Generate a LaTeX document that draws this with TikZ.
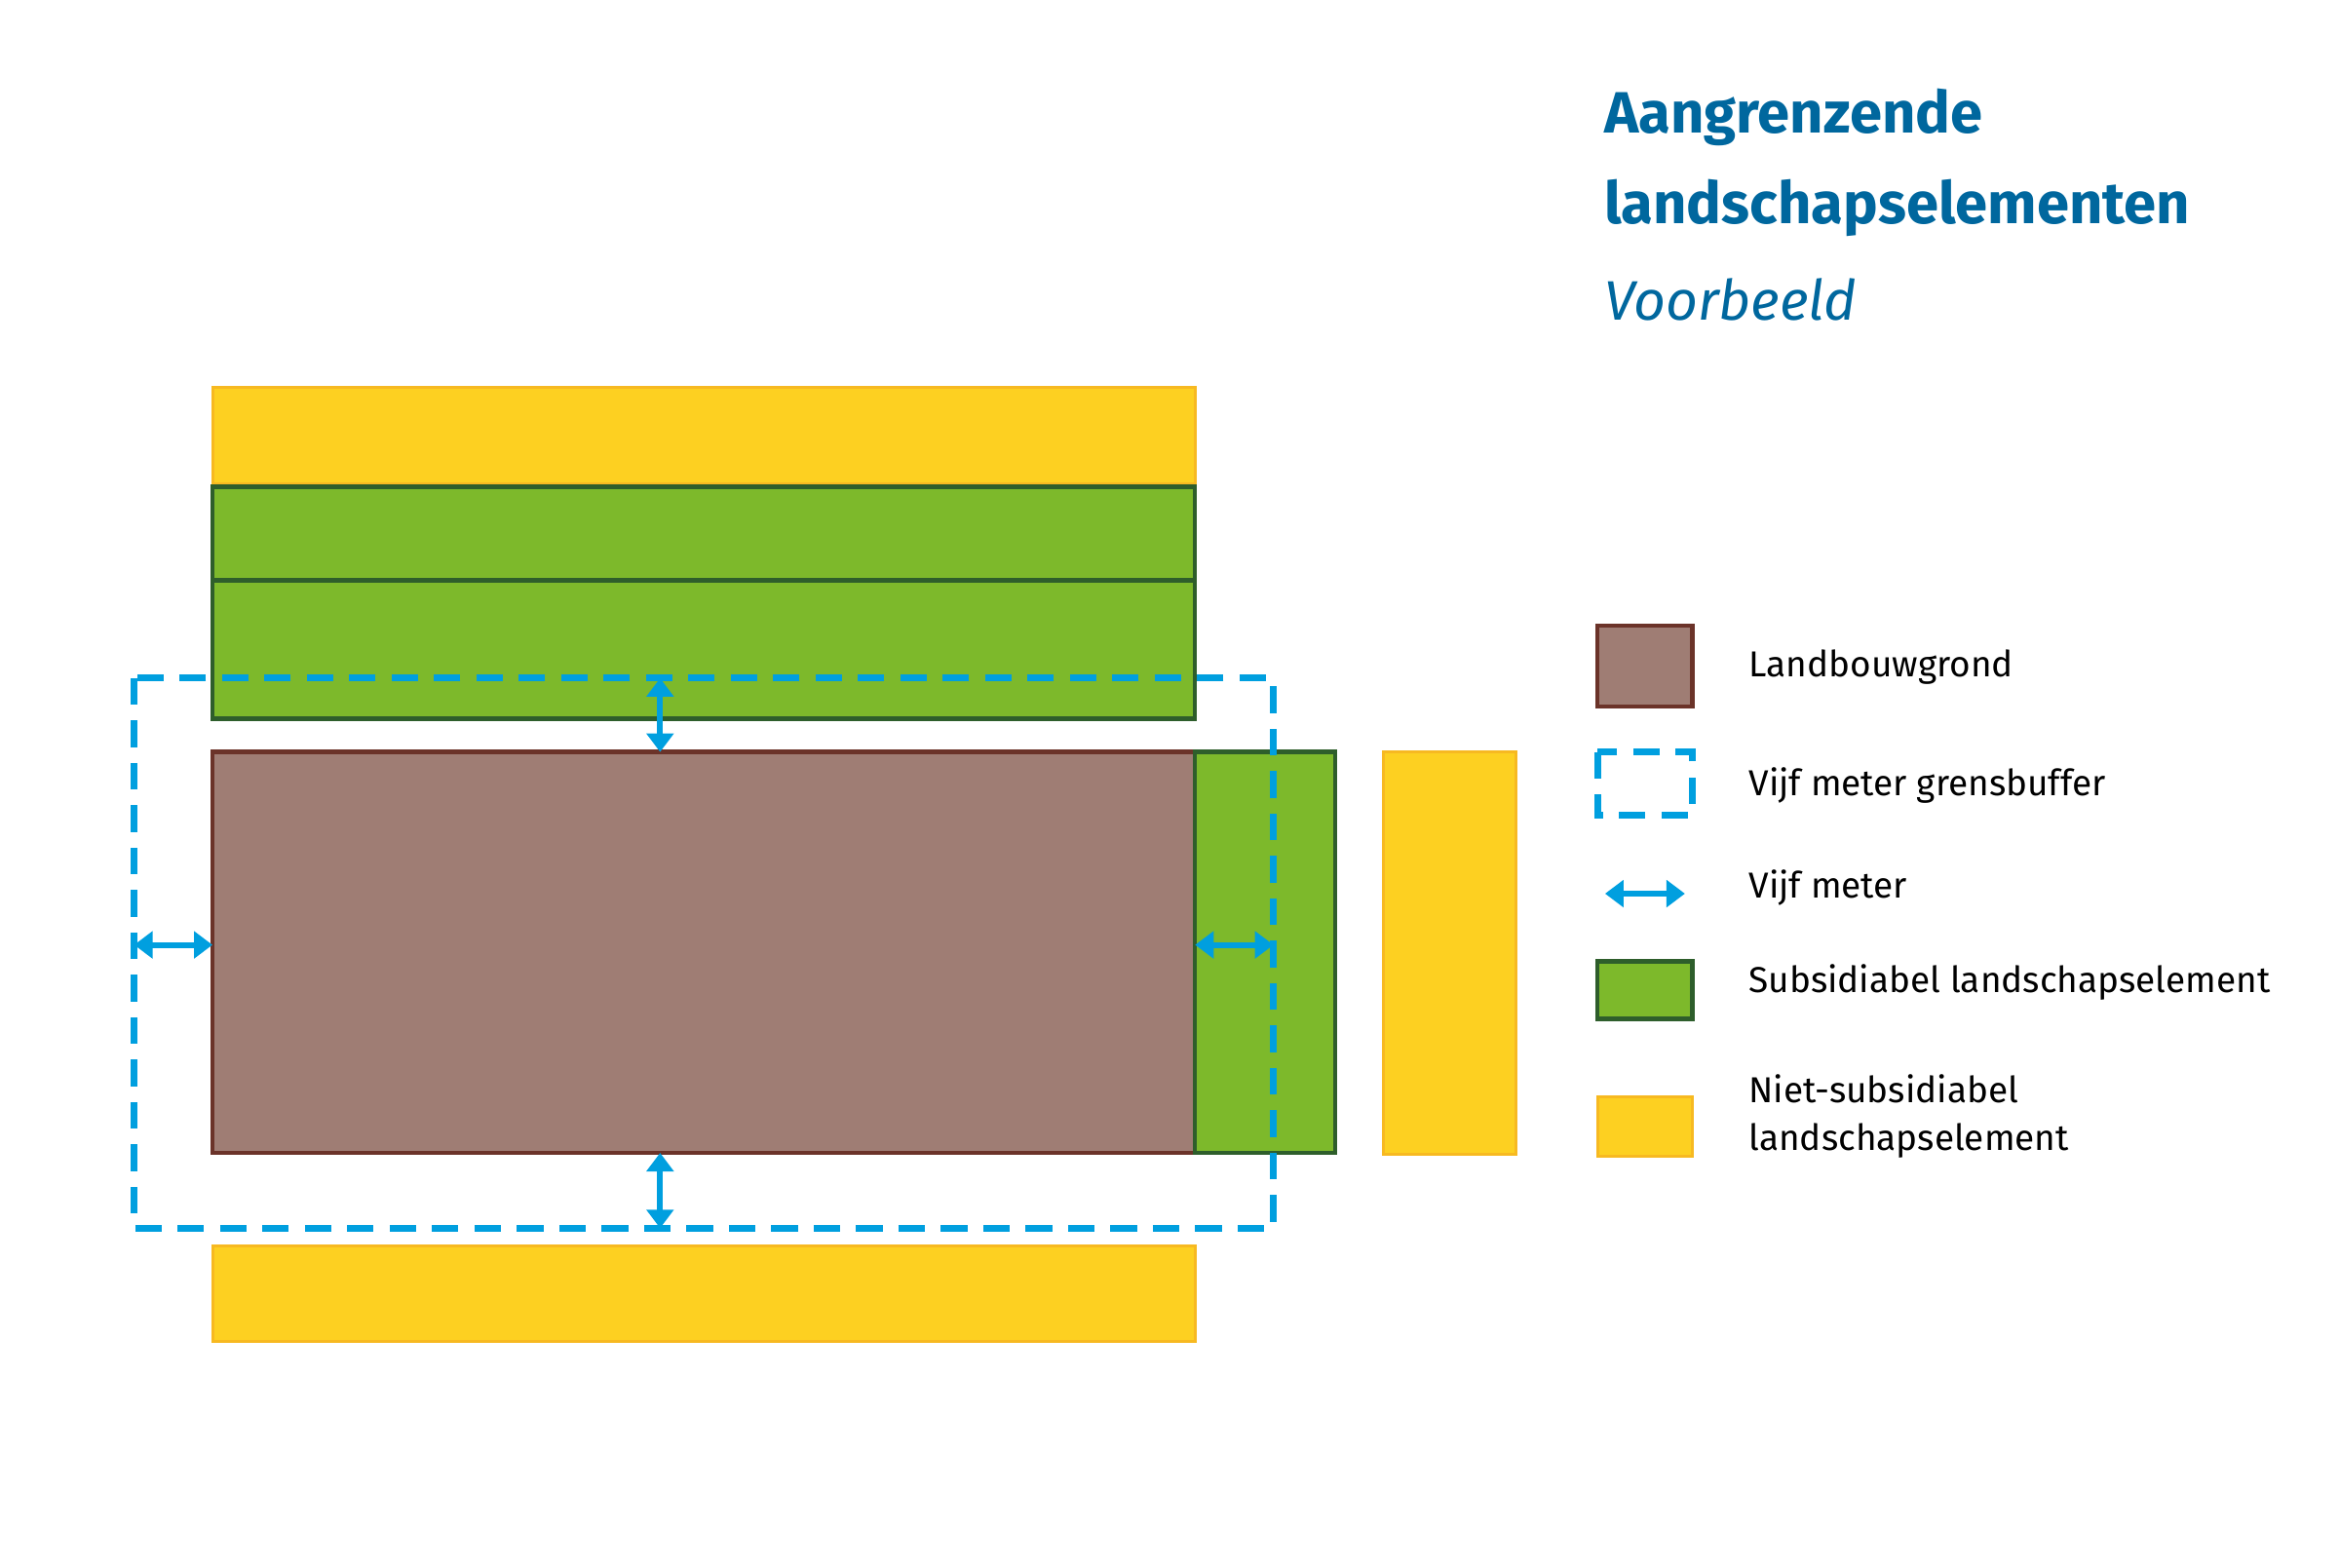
\documentclass[tikz,border=0pt]{standalone}
\usepackage{fontspec}
\setmainfont{Fira Sans}
\usetikzlibrary{arrows.meta}
\definecolor{yel}{HTML}{FDD021}\definecolor{yelb}{HTML}{F7B921}
\definecolor{grn}{HTML}{7DB92B}\definecolor{grnb}{HTML}{2E5E2B}
\definecolor{brn}{HTML}{9F7D74}\definecolor{brnb}{HTML}{6B3329}
\definecolor{blu}{HTML}{009FDF}\definecolor{ttl}{HTML}{00679E}
\tikzset{
 yelbox/.style={fill=yel,draw=yelb,line width=0.55pt},
 grnbox/.style={fill=grn,draw=grnb,line width=0.8pt},
 brnbox/.style={fill=brn,draw=brnb,line width=0.8pt},
 buf/.style={draw=blu,line width=1.3pt,dash pattern=on 5pt off 3pt},
 dbl/.style={blu,line width=1.1pt,{Triangle[length=3.5pt,width=5pt]}-{Triangle[length=3.5pt,width=5pt]}},
 lab/.style={anchor=west,font=\fontsize{6.8}{9}\selectfont,align=left}
}
\begin{document}
\begin{tikzpicture}[x=0.01cm,y=-0.01cm]
\useasboundingbox (0,0) rectangle (1552,1040);
\draw[yelbox] (141,257) rectangle (793,321);
\draw[grnbox] (141,323) rectangle (793,385);
\draw[grnbox] (141,385) rectangle (793,477);
\draw[brnbox] (141,499) rectangle (793,765);
\draw[grnbox] (793,499) rectangle (886,765);
\draw[yelbox] (918,499) rectangle (1006,766);
\draw[yelbox] (141,827) rectangle (793,890);
\draw[buf] (89,450) rectangle (845,815);
\coordinate (a1) at (438,450); \coordinate (a2) at (438,499);
\coordinate (b1) at (438,765); \coordinate (b2) at (438,815);
\coordinate (c1) at (89,627); \coordinate (c2) at (141,627);
\coordinate (d1) at (793,627); \coordinate (d2) at (845,627);
\draw[dbl] (a1)--(a2); \draw[dbl] (b1)--(b2);
\draw[dbl] (c1)--(c2); \draw[dbl] (d1)--(d2);
\node[anchor=west,text=ttl,font=\fontsize{11}{17}\selectfont\bfseries,align=left] (t) at (1052,108) {Aangrenzende\\landschapselementen};
\node[anchor=west,text=ttl,font=\fontsize{10.5}{12}\selectfont\itshape] (v) at (1052,199) {Voorbeeld};
\draw[brnbox] (1060,415) rectangle (1123,469);
\node[lab] (l1) at (1148,443) {Landbouwgrond};
\draw[buf] (1060,499) rectangle (1123,541);
\node[lab] (l2) at (1148,521) {Vijf meter grensbuffer};
\coordinate (e1) at (1065,593); \coordinate (e2) at (1118,593);
\draw[dbl] (e1)--(e2);
\node[lab] (l3) at (1148,589) {Vijf meter};
\draw[grnbox] (1060,638) rectangle (1123,676);
\node[lab] (l4) at (1148,652) {Subsidiabel landschapselement};
\draw[yelbox] (1060,728) rectangle (1123,767);
\node[lab] (l5) at (1148,741) {Niet-subsidiabel\\landschapselement};
\end{tikzpicture}
\end{document}
